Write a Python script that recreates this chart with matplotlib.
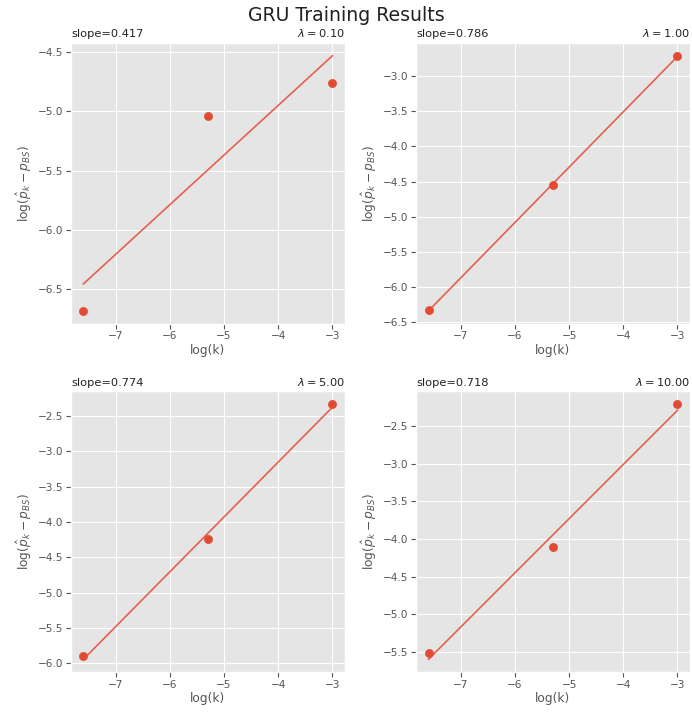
import numpy as np
import matplotlib
matplotlib.use("Agg")
import matplotlib.pyplot as plt

plt.style.use("ggplot")

# log(k) for k = 0.0005, 0.005, 0.05
log_k = [np.log(0.0005), np.log(0.005), np.log(0.05)]

lambdas = [0.10, 1.00, 5.00, 10.00]
slopes = [0.417, 0.786, 0.774, 0.718]

# log(p_hat_k - p_BS), one list per lambda
err_lam_010 = [-6.68, -5.04, -4.76]
err_lam_100 = [-6.33, -4.55, -2.71]
err_lam_500 = [-5.90, -4.245, -2.335]
err_lam_1000 = [-5.515, -4.105, -2.21]
errors = [err_lam_010, err_lam_100, err_lam_500, err_lam_1000]

fig, axes = plt.subplots(2, 2, figsize=(6.92, 7.13), dpi=100)
fig.subplots_adjust(left=0.1026, right=0.997, top=0.9397, bottom=0.0575,
                    wspace=0.26, hspace=0.242)

for ax, lam, slope, y in zip(axes.flat, lambdas, slopes, errors):
    x = np.array(log_k)
    y = np.array(y)
    b, a = np.polyfit(x, y, 1)
    ax.scatter(x, y, color="#E24A33", s=34, zorder=3)
    ax.plot(x, a + b * x, color="#E24A33", alpha=0.85, lw=1.2)
    ax.set_title("slope=%.3f" % slope, loc="left", fontsize=8.2, pad=4, color="#222222")
    ax.set_title(r"$\lambda=%.2f$" % lam, loc="right", fontsize=8.2, pad=4, color="#222222")
    ax.set_xlabel("log(k)", fontsize=8.8, labelpad=2)
    ax.set_ylabel(r"$\log(\hat{p}_k - p_{BS})$", fontsize=8.8, labelpad=3)
    ax.tick_params(labelsize=7.6, pad=2)

fig.suptitle("GRU Training Results", fontsize=13.6, y=0.992, color="#222222")

fig.savefig("out.png", dpi=100)
